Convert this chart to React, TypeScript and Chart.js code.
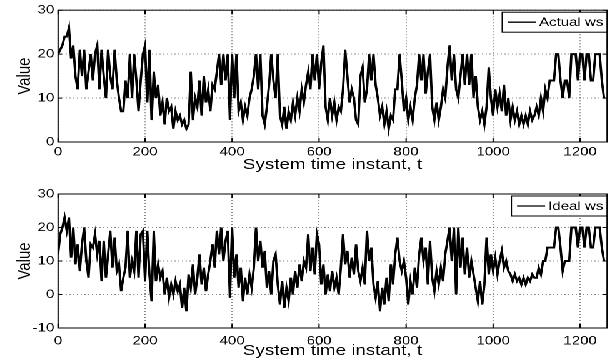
import React, { useEffect, useRef } from "react";
import { Chart, registerables } from "chart.js";

Chart.register(...registerables);

// ---- data (one sample every SAMPLE_STEP time instants) ----
const SAMPLE_STEP = 5;
const X_MAX = 1262;
const X_TICKS = [0, 200, 400, 600, 800, 1000, 1200];
const TOP_Y_TICKS = [0, 10, 20, 30];
const BOTTOM_Y_TICKS = [-10, 0, 10, 20, 30];
const X_TITLE = "System time instant, t";
const Y_TITLE = "Value";
const TOP_LABEL = "Actual ws";
const BOTTOM_LABEL = "Ideal ws";

const actualWs = [
  20, 21, 22, 24, 24, 26, 19, 22, 15, 12, 21, 15, 21, 12, 16, 20, 14, 20, 22, 12,
  21, 15, 10, 21, 15, 12, 21, 14, 10, 7, 7, 14, 10, 20, 10, 20, 14, 7, 14, 20,
  22, 9, 21, 5, 16, 10, 13, 6, 9, 4, 10, 7, 8, 3, 7, 5, 6, 4, 5, 3,
  4, 16, 5, 10, 8, 14, 6, 15, 9, 12, 7, 13, 12, 16, 20, 13, 20, 14, 20, 5,
  20, 10, 20, 7, 9, 5, 8, 6, 10, 12, 15, 20, 12, 20, 6, 4, 8, 13, 20, 14,
  10, 20, 6, 4, 8, 3, 7, 5, 9, 6, 10, 7, 12, 9, 13, 16, 12, 20, 14, 20,
  12, 18, 22, 8, 5, 10, 6, 9, 5, 8, 7, 12, 21, 15, 9, 12, 10, 5, 4, 15,
  17, 9, 12, 20, 14, 20, 13, 10, 6, 8, 4, 7, 3, 6, 5, 12, 12, 20, 14, 7,
  10, 5, 8, 5, 10, 13, 20, 14, 20, 11, 16, 20, 8, 5, 9, 5, 8, 12, 10, 17,
  22, 14, 20, 12, 10, 15, 20, 13, 20, 13, 20, 10, 15, 8, 5, 7, 4, 8, 17, 10,
  6, 12, 8, 11, 7, 13, 6, 10, 5, 8, 5, 7, 4, 6, 4, 6, 4, 7, 5, 6,
  8, 6, 10, 7, 12, 10, 14, 14, 14, 20, 20, 14, 10, 14, 14, 10, 20, 20, 20, 14,
  20, 20, 14, 20, 20, 14, 14, 20, 20, 20, 14, 10,
];

const idealWs = [
  12, 18, 20, 23, 19, 23, 11, 20, 9, 15, 7, 15, 20, 10, 5, 15, 14, 18, 12, 16,
  4, 16, 5, 12, 19, 8, 17, 7, 9, 1, 5, 8, 19, 5, 10, 7, 19, 5, 18, 19,
  4, 19, 6, -2, 19, 4, 9, 5, 7, 0, 5, -1, 3, 0, 4, 1, 3, -4, 2, -5,
  6, 2, 9, 0, 5, 12, 3, 8, 1, 6, 10, 15, 8, 19, 12, 20, 10, 16, 19, -1,
  20, 5, 12, 2, 8, -2, 5, 0, 6, 2, 8, 20, 10, 16, 8, 13, 2, 7, 0, 10,
  12, 3, -3, 4, -4, 2, -2, 5, 0, 7, 2, 9, 4, 10, 8, 18, 7, 14, 6, 18,
  15, 3, 9, 0, 6, 1, 7, 2, 5, 0, 8, 18, 9, 13, 5, 11, 6, 15, 7, 4,
  8, 3, 19, 10, 14, 3, -1, 4, -5, 2, -3, 5, -2, 9, 3, 12, 17, 10, 7, 10,
  5, -3, 4, 0, 8, 2, 12, 17, 10, 14, 3, 16, 5, 1, 7, 3, 8, 4, 12, 16,
  20, 10, 20, 0, 20, 8, 17, 6, 14, 5, 10, 6, 2, -2, 4, -3, 3, 17, 6, 12,
  7, 11, 6, 10, 13, 8, 10, 7, 6, 4, 6, 4, 5, 3, 5, 3, 5, 4, 6, 5,
  5, 8, 6, 10, 10, 14, 14, 14, 14, 20, 20, 14, 7, 10, 10, 10, 20, 20, 20, 14,
  20, 20, 14, 20, 20, 14, 14, 20, 20, 20, 14, 10,
];

// ---- layout (the reference is stretched horizontally) ----
const STRETCH = 1.25;
const BASE_W = 488;
const PANEL_H = 182;
const FONT = '"Liberation Sans", Arial, Helvetica, sans-serif';
const GRID = "rgba(0,0,0,0.45)";

const framePlugin = {
  id: "matlabFrame",
  afterDatasetsDraw(chart: any) {
    const { ctx, chartArea: a, scales } = chart;
    ctx.save();
    ctx.strokeStyle = "#000";
    ctx.lineWidth = 1;
    ctx.setLineDash([]);
    ctx.strokeRect(a.left, a.top, a.right - a.left, a.bottom - a.top);
    const tl = 4;
    ctx.beginPath();
    scales.x.ticks.forEach((t: any) => {
      const px = scales.x.getPixelForValue(t.value);
      ctx.moveTo(px, a.bottom);
      ctx.lineTo(px, a.bottom - tl);
      ctx.moveTo(px, a.top);
      ctx.lineTo(px, a.top + tl);
    });
    scales.y.ticks.forEach((t: any) => {
      const py = scales.y.getPixelForValue(t.value);
      ctx.moveTo(a.left, py);
      ctx.lineTo(a.left + 3.2, py);
      ctx.moveTo(a.right, py);
      ctx.lineTo(a.right - 3.2, py);
    });
    ctx.stroke();

    // legend box
    const label = chart.data.datasets[0].label;
    ctx.font = `12px ${FONT}`;
    const tw = ctx.measureText(label).width;
    const padL = 4.5, lineLen = 22.5, gap = 2.5, padR = 3;
    const boxW = padL + lineLen + gap + tw + padR;
    const boxH = 20;
    const bx = a.right - boxW;
    const by = a.top + 2;
    ctx.fillStyle = "#fff";
    ctx.fillRect(bx, by, boxW, boxH);
    ctx.strokeRect(bx, by, boxW, boxH);
    ctx.beginPath();
    ctx.lineWidth = 1.3;
    ctx.moveTo(bx + padL, by + boxH / 2);
    ctx.lineTo(bx + padL + lineLen, by + boxH / 2);
    ctx.stroke();
    ctx.fillStyle = "#000";
    ctx.textBaseline = "middle";
    ctx.textAlign = "left";
    ctx.fillText(label, bx + padL + lineLen + gap, by + boxH / 2 + 0.5);
    ctx.restore();
  },
};

type PanelProps = {
  label: string;
  values: number[];
  yTicks: number[];
  top: number;
  areaTop: number;
  xHeight: number;
  tickPad: number;
  titlePadBottom: number;
};

function Panel({ label, values, yTicks, top, areaTop, xHeight, tickPad, titlePadBottom }: PanelProps) {
  const ref = useRef<HTMLCanvasElement>(null);
  useEffect(() => {
    const canvas = ref.current;
    if (!canvas) return;
    const chart = new Chart(canvas, {
      type: "line",
      data: {
        datasets: [
          {
            label,
            data: values.map((v, i) => ({ x: i * SAMPLE_STEP, y: v })),
            borderColor: "#000",
            borderWidth: 1.9,
            pointRadius: 0,
            tension: 0,
            fill: false,
          },
        ],
      },
      options: {
        animation: false,
        responsive: false,
        devicePixelRatio: 2,
        layout: { padding: { top: areaTop, right: 2.4, left: 0, bottom: 0 } },
        plugins: { legend: { display: false }, tooltip: { enabled: false } },
        scales: {
          x: {
            type: "linear",
            min: 0,
            max: X_MAX,
            afterBuildTicks: (s: any) => {
              s.ticks = X_TICKS.map((v) => ({ value: v }));
            },
            afterFit: (s: any) => {
              s.height = xHeight;
            },
            ticks: {
              color: "#000",
              font: { family: FONT, size: 12 },
              padding: tickPad,
              maxRotation: 0,
              autoSkip: false,
              callback: (v: any) => String(v),
            },
            grid: { color: GRID, lineWidth: 1, drawTicks: false },
            border: { display: false, dash: [1, 2] },
            title: {
              display: true,
              text: X_TITLE,
              color: "#000",
              font: { family: FONT, size: 15 },
              padding: { top: 0, bottom: titlePadBottom },
            },
          },
          y: {
            type: "linear",
            min: yTicks[0],
            max: yTicks[yTicks.length - 1],
            afterBuildTicks: (s: any) => {
              s.ticks = yTicks.map((v) => ({ value: v }));
            },
            afterFit: (s: any) => {
              s.width = 46.4;
            },
            ticks: {
              color: "#000",
              font: { family: FONT, size: 12 },
              padding: 3,
              callback: (v: any) => String(v),
            },
            grid: { color: GRID, lineWidth: 1, drawTicks: false },
            border: { display: false, dash: [1, 2] },
            title: {
              display: true,
              text: Y_TITLE,
              color: "#000",
              font: { family: FONT, size: 15 },
              padding: { top: 11, bottom: 0 },
            },
          },
        },
      },
      plugins: [framePlugin],
    } as any);
    return () => chart.destroy();
  }, []);
  return (
    <canvas
      ref={ref}
      width={BASE_W}
      height={PANEL_H}
      style={{ position: "absolute", left: 0, top, width: BASE_W, height: PANEL_H }}
    />
  );
}

export default function App() {
  return (
    <div
      style={{
        position: "absolute",
        left: 0,
        top: 0,
        width: BASE_W,
        height: PANEL_H * 2,
        transform: `scaleX(${STRETCH})`,
        transformOrigin: "0 0",
        background: "#fff",
      }}
    >
      <Panel
        label={TOP_LABEL}
        values={actualWs}
        yTicks={TOP_Y_TICKS}
        top={0}
        areaTop={8}
        xHeight={40}
        tickPad={3}
        titlePadBottom={8}
      />
      <Panel
        label={BOTTOM_LABEL}
        values={idealWs}
        yTicks={BOTTOM_Y_TICKS}
        top={PANEL_H}
        areaTop={12}
        xHeight={36}
        tickPad={6}
        titlePadBottom={4}
      />
    </div>
  );
}
